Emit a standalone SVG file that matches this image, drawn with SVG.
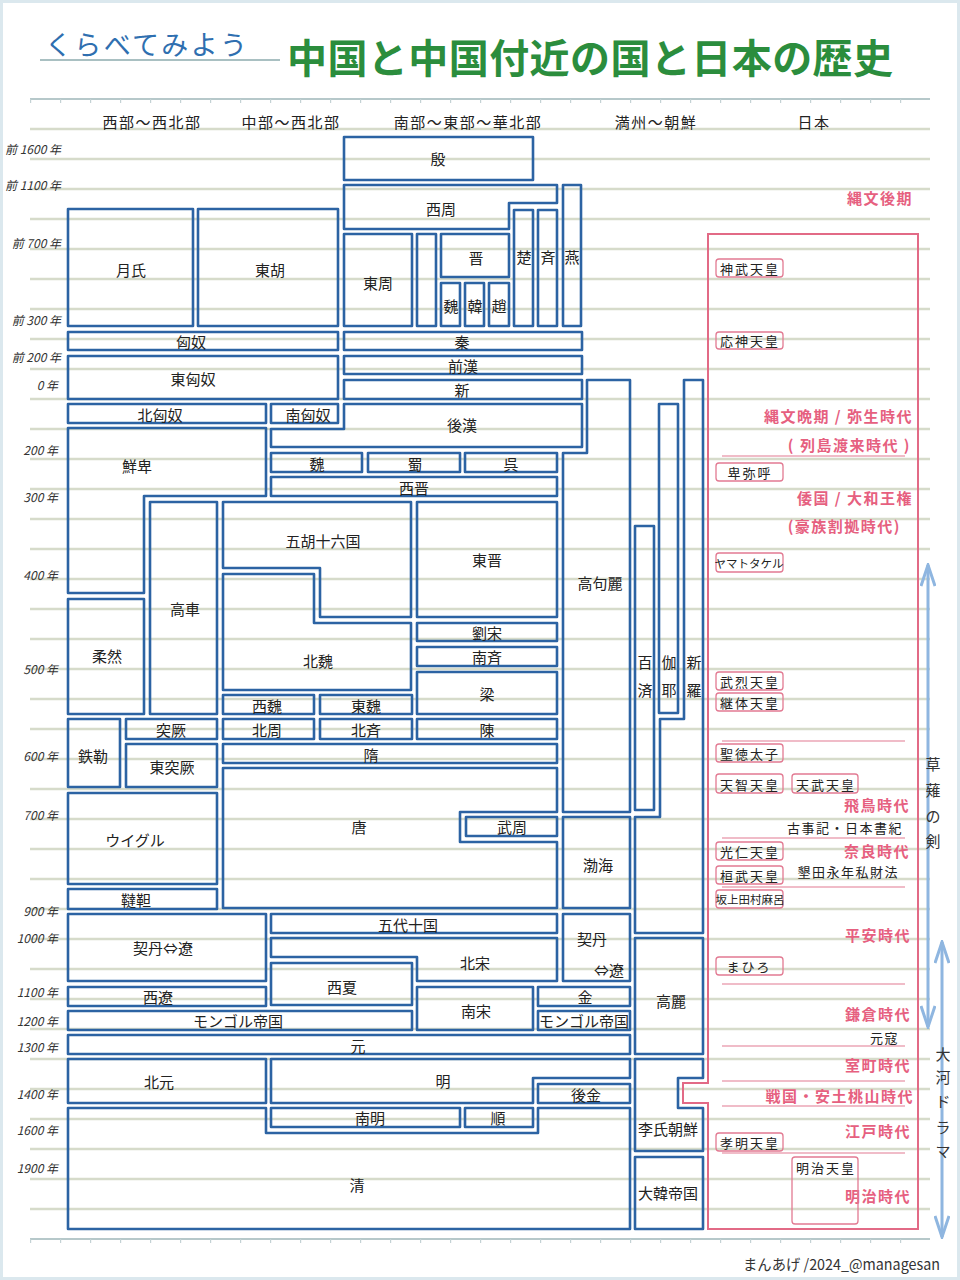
<svg xmlns="http://www.w3.org/2000/svg" width="960" height="1280" viewBox="0 0 960 1280">
<defs>
<style>
text{font-family:"Noto Sans CJK JP","Noto Sans",sans-serif}
.rule{stroke:#d6dbca;stroke-width:2.3;fill:none}
.edge{stroke:#b6c8ca;stroke-width:2}
.tick{stroke:#c4d2d4;stroke-width:4;stroke-dasharray:1.2 28.8}
.box{fill:none;stroke:#2c63a3;stroke-width:2.6;stroke-linejoin:round}
.l{font-size:15px;fill:#222;text-anchor:middle;dominant-baseline:central}
.h{font-size:15px;fill:#222;text-anchor:middle;dominant-baseline:central;letter-spacing:1.5px}
.y{font-size:12px;fill:#333;text-anchor:end;dominant-baseline:central;font-style:italic}
.jb{fill:none;stroke:#e27a92;stroke-width:1.3}
.jl{font-size:13px;fill:#222;text-anchor:middle;dominant-baseline:central;letter-spacing:2px}
.js{font-size:11.5px;fill:#222;text-anchor:middle;dominant-baseline:central}
.era{font-size:15px;font-weight:700;fill:#e6607f;text-anchor:end;dominant-baseline:central;letter-spacing:1.5px}
.note{font-size:13px;fill:#222;text-anchor:end;dominant-baseline:central;letter-spacing:1.5px}
.sep{stroke:#e27a92;stroke-width:1.2}
.arr{stroke:#8fb6e0;stroke-width:3;fill:none}
.vt{font-size:15px;fill:#333;text-anchor:middle;dominant-baseline:central}
</style>
<marker id="ah" viewBox="0 0 24 16" refX="22" refY="8" markerWidth="24" markerHeight="16" markerUnits="userSpaceOnUse" orient="auto-start-reverse"><path d="M1,1 L22,8 L1,15" fill="none" stroke="#8fb6e0" stroke-width="3"/></marker>
</defs>

<rect x="1.5" y="1.5" width="957" height="1277" fill="#fff" stroke="#dbe8ee" stroke-width="3"/>

<g id="paper">
<path class="rule" d="M30,129H930M30,159H930M30,189H930M30,219H930M30,249H930M30,279H930M30,309H930M30,339H930M30,369H930M30,399H930M30,429H930M30,459H930M30,489H930M30,519H930M30,549H930M30,579H930M30,609H930M30,639H930M30,669H930M30,699H930M30,729H930M30,759H930M30,789H930M30,819H930M30,849H930M30,879H930M30,909H930M30,939H930M30,969H930M30,999H930M30,1029H930M30,1059H930M30,1089H930M30,1119H930M30,1149H930M30,1179H930M30,1209H930"/>
<line class="edge" x1="30" y1="99" x2="930" y2="99"/>
<line class="tick" x1="30" y1="101" x2="930" y2="101"/>
<line class="edge" x1="30" y1="1239" x2="930" y2="1239"/>
<line class="tick" x1="30" y1="1241" x2="930" y2="1241"/>
</g>

<g id="title">
<text x="45" y="55" font-size="27" fill="#2f6fb0" textLength="202" lengthAdjust="spacing">くらべてみよう</text>
<line x1="40" y1="60" x2="280" y2="60" stroke="#a9c0c2" stroke-width="2"/>
<text x="287" y="73" font-size="40" font-weight="700" fill="#2b8d3d" textLength="606" lengthAdjust="spacing">中国と中国付近の国と日本の歴史</text>
</g>

<g id="headers">
<text class="h" x="152" y="121">西部～西北部</text>
<text class="h" x="291" y="121">中部～西北部</text>
<text class="h" x="468" y="121">南部～東部～華北部</text>
<text class="h" x="656" y="121">満州～朝鮮</text>
<text class="h" x="814" y="121">日本</text>
</g>

<g id="years">
<text class="y" x="61" y="148">前 1600 年</text>
<text class="y" x="61" y="184">前 1100 年</text>
<text class="y" x="61" y="242">前 700 年</text>
<text class="y" x="61" y="319">前 300 年</text>
<text class="y" x="61" y="356">前 200 年</text>
<text class="y" x="58" y="384">0 年</text>
<text class="y" x="58" y="449">200 年</text>
<text class="y" x="58" y="496">300 年</text>
<text class="y" x="58" y="574">400 年</text>
<text class="y" x="58" y="668">500 年</text>
<text class="y" x="58" y="755">600 年</text>
<text class="y" x="58" y="814">700 年</text>
<text class="y" x="58" y="910">900 年</text>
<text class="y" x="58" y="937">1000 年</text>
<text class="y" x="58" y="991">1100 年</text>
<text class="y" x="58" y="1020">1200 年</text>
<text class="y" x="58" y="1046">1300 年</text>
<text class="y" x="58" y="1093">1400 年</text>
<text class="y" x="58" y="1129">1600 年</text>
<text class="y" x="58" y="1167">1900 年</text>
</g>

<g id="n-yin"><rect class="box" x="344" y="137" width="189" height="43"/><text class="l" x="438" y="158">殷</text></g>
<g id="n-xizhou"><path class="box" d="M344,185H557V203H509V229H344Z"/><text class="l" x="441" y="208">西周</text></g>
<g id="n-yan"><rect class="box" x="563" y="185" width="18" height="141"/><text class="l" x="572" y="256">燕</text></g>
<g id="n-chu"><rect class="box" x="514" y="210" width="19" height="116"/><text class="l" x="524" y="256">楚</text></g>
<g id="n-qi"><rect class="box" x="538" y="210" width="19" height="116"/><text class="l" x="548" y="256">斉</text></g>
<g id="n-dongzhou"><rect class="box" x="344" y="234" width="68" height="92"/><text class="l" x="378" y="282">東周</text></g>
<g id="n-narrow"><rect class="box" x="417" y="234" width="19" height="92"/></g>
<g id="n-jin"><rect class="box" x="441" y="234" width="68" height="43"/><text class="l" x="476" y="257">晋</text></g>
<g id="n-wei1"><rect class="box" x="441" y="283" width="19" height="43"/><text class="l" x="451" y="305">魏</text></g>
<g id="n-han"><rect class="box" x="465" y="283" width="19" height="43"/><text class="l" x="475" y="305">韓</text></g>
<g id="n-zhao"><rect class="box" x="489" y="283" width="20" height="43"/><text class="l" x="499" y="305">趙</text></g>
<g id="n-yuezhi"><rect class="box" x="68" y="209" width="125" height="117"/><text class="l" x="131" y="269">月氏</text></g>
<g id="n-donghu"><rect class="box" x="198" y="209" width="140" height="117"/><text class="l" x="270" y="269">東胡</text></g>
<g id="n-xiongnu"><rect class="box" x="68" y="332" width="270" height="18"/><text class="l" x="191" y="341">匈奴</text></g>
<g id="n-dongxiongnu"><rect class="box" x="68" y="356" width="270" height="43"/><text class="l" x="193" y="378">東匈奴</text></g>
<g id="n-qin"><rect class="box" x="344" y="332" width="238" height="18"/><text class="l" x="462" y="341">秦</text></g>
<g id="n-qianhan"><rect class="box" x="344" y="356" width="238" height="18"/><text class="l" x="463" y="365">前漢</text></g>
<g id="n-xin"><rect class="box" x="344" y="380" width="238" height="19"/><text class="l" x="462" y="389">新</text></g>
<g id="n-houhan"><path class="box" d="M344,404H582V447H271V429H344Z"/><text class="l" x="462" y="424">後漢</text></g>
<g id="n-beixiongnu"><rect class="box" x="68" y="404" width="198" height="19"/><text class="l" x="160" y="414">北匈奴</text></g>
<g id="n-nanxiongnu"><rect class="box" x="271" y="404" width="67" height="19"/><text class="l" x="308" y="414">南匈奴</text></g>
<g id="n-xianbei"><path class="box" d="M68,428H266V496H144V593H68Z"/><text class="l" x="137" y="465">鮮卑</text></g>
<g id="n-wei2"><rect class="box" x="271" y="453" width="91" height="19"/><text class="l" x="317" y="463">魏</text></g>
<g id="n-shu"><rect class="box" x="368" y="453" width="92" height="19"/><text class="l" x="415" y="463">蜀</text></g>
<g id="n-wu"><rect class="box" x="465" y="453" width="92" height="19"/><text class="l" x="511" y="463">呉</text></g>
<g id="n-xijin"><rect class="box" x="271" y="477" width="286" height="19"/><text class="l" x="414" y="487">西晋</text></g>
<g id="n-goguryeo"><path class="box" d="M587,380H630V812H563V453H587Z"/><text class="l" x="600" y="582">高句麗</text></g>
<g id="n-wuhu"><path class="box" d="M223,502H411V617H320V568H223Z"/><text class="l" x="323" y="540">五胡十六国</text></g>
<g id="n-beiwei"><path class="box" d="M223,574H314V623H411V690H223Z"/><text class="l" x="318" y="660">北魏</text></g>
<g id="n-dongjin"><rect class="box" x="417" y="502" width="140" height="115"/><text class="l" x="487" y="559">東晋</text></g>
<g id="n-liusong"><rect class="box" x="417" y="623" width="140" height="18"/><text class="l" x="487" y="632">劉宋</text></g>
<g id="n-nanqi"><rect class="box" x="417" y="647" width="140" height="19"/><text class="l" x="487" y="656">南斉</text></g>
<g id="n-liang"><rect class="box" x="417" y="672" width="140" height="42"/><text class="l" x="487" y="693">梁</text></g>
<g id="n-chen"><rect class="box" x="417" y="719" width="140" height="20"/><text class="l" x="487" y="729">陳</text></g>
<g id="n-xiwei"><rect class="box" x="223" y="695" width="91" height="19"/><text class="l" x="267" y="705">西魏</text></g>
<g id="n-dongwei"><rect class="box" x="320" y="695" width="92" height="19"/><text class="l" x="366" y="705">東魏</text></g>
<g id="n-beizhou"><rect class="box" x="223" y="719" width="91" height="20"/><text class="l" x="267" y="729">北周</text></g>
<g id="n-beiqi"><rect class="box" x="320" y="719" width="92" height="20"/><text class="l" x="366" y="729">北斉</text></g>
<g id="n-sui"><rect class="box" x="223" y="744" width="334" height="19"/><text class="l" x="371" y="754">隋</text></g>
<g id="n-tang"><path class="box" d="M223,768H557V812H460V842H557V908H223Z"/><text class="l" x="359" y="826">唐</text></g>
<g id="n-wuzhou"><rect class="box" x="466" y="817" width="91" height="19"/><text class="l" x="512" y="826">武周</text></g>
<g id="n-rouran"><rect class="box" x="68" y="599" width="76" height="115"/><text class="l" x="107" y="655">柔然</text></g>
<g id="n-gaoche"><rect class="box" x="150" y="502" width="67" height="212"/><text class="l" x="185" y="608">高車</text></g>
<g id="n-tiele"><rect class="box" x="68" y="719" width="52" height="68"/><text class="l" x="93" y="755">鉄勒</text></g>
<g id="n-tujue"><rect class="box" x="126" y="719" width="91" height="20"/><text class="l" x="171" y="729">突厥</text></g>
<g id="n-dongtujue"><rect class="box" x="126" y="744" width="91" height="43"/><text class="l" x="172" y="766">東突厥</text></g>
<g id="n-uyghur"><rect class="box" x="68" y="793" width="149" height="91"/><text class="l" x="135" y="839">ウイグル</text></g>
<g id="n-dada"><rect class="box" x="68" y="889" width="149" height="20"/><text class="l" x="136" y="899">韃靼</text></g>
<g id="n-baekje"><rect class="box" x="635" y="526" width="19" height="284"/><text class="l" x="645" y="661">百</text><text class="l" x="645" y="689">済</text></g>
<g id="n-gaya"><rect class="box" x="659" y="404" width="19" height="309"/><text class="l" x="669" y="661">伽</text><text class="l" x="669" y="689">耶</text></g>
<g id="n-silla"><path class="box" d="M684,380H703V933H635V817H660V719H684Z"/><text class="l" x="694" y="661">新</text><text class="l" x="694" y="689">羅</text></g>
<g id="n-bohai"><rect class="box" x="563" y="817" width="67" height="91"/><text class="l" x="598" y="864">渤海</text></g>
<g id="n-khitan-r"><rect class="box" x="563" y="914" width="67" height="67"/><text class="l" x="592" y="938">契丹</text><text class="l" x="609" y="969">⇔遼</text></g>
<g id="n-khitan-l"><rect class="box" x="68" y="914" width="198" height="67"/><text class="l" x="163" y="947">契丹⇔遼</text></g>
<g id="n-wudai"><rect class="box" x="271" y="914" width="286" height="19"/><text class="l" x="408" y="924">五代十国</text></g>
<g id="n-beisong"><path class="box" d="M271,938H557V981H417V957H271Z"/><text class="l" x="475" y="962">北宋</text></g>
<g id="n-xixia"><rect class="box" x="271" y="963" width="141" height="42"/><text class="l" x="342" y="986">西夏</text></g>
<g id="n-nansong"><rect class="box" x="417" y="987" width="116" height="43"/><text class="l" x="476" y="1010">南宋</text></g>
<g id="n-xiliao"><rect class="box" x="68" y="987" width="198" height="19"/><text class="l" x="158" y="996">西遼</text></g>
<g id="n-jin2"><rect class="box" x="538" y="987" width="92" height="19"/><text class="l" x="585" y="996">金</text></g>
<g id="n-mongol-l"><rect class="box" x="68" y="1011" width="344" height="19"/><text class="l" x="238" y="1020">モンゴル帝国</text></g>
<g id="n-mongol-r"><rect class="box" x="538" y="1011" width="92" height="19"/><text class="l" x="584" y="1020" font-size="14">モンゴル帝国</text></g>
<g id="n-goryeo"><rect class="box" x="635" y="938" width="68" height="116"/><text class="l" x="671" y="1000">高麗</text></g>
<g id="n-yuan"><rect class="box" x="68" y="1035" width="562" height="19"/><text class="l" x="358" y="1045">元</text></g>
<g id="n-beiyuan"><rect class="box" x="68" y="1059" width="198" height="44"/><text class="l" x="159" y="1081">北元</text></g>
<g id="n-ming"><path class="box" d="M271,1059H630V1078H533V1103H271Z"/><text class="l" x="443" y="1080">明</text></g>
<g id="n-houjin"><rect class="box" x="538" y="1084" width="92" height="19"/><text class="l" x="586" y="1094">後金</text></g>
<g id="n-nanming"><rect class="box" x="271" y="1108" width="189" height="19"/><text class="l" x="370" y="1117">南明</text></g>
<g id="n-shun"><rect class="box" x="465" y="1108" width="68" height="19"/><text class="l" x="498" y="1117">順</text></g>
<g id="n-qing"><path class="box" d="M68,1108H266V1133H538V1108H630V1229H68Z"/><text class="l" x="357" y="1184">清</text></g>
<g id="n-joseon"><path class="box" d="M635,1059H703V1078H678V1108H703V1151H635Z"/><text class="l" x="668" y="1128">李氏朝鮮</text></g>
<g id="n-korea-empire"><rect class="box" x="635" y="1157" width="68" height="72"/><text class="l" x="668" y="1192">大韓帝国</text></g>

<g id="japan">
<path d="M708,234H918V1229H708V1103H683V1083H708Z" fill="none" stroke="#e26a86" stroke-width="2"/>
<path class="sep" d="M722,456H905M722,741H905M722,838H905M722,887H905M722,984H905M722,1046H905M722,1081H905M722,1106H905M722,1153H905"/>
<text class="era" x="913" y="197">縄文後期</text>
<text class="era" x="913" y="415">縄文晩期 / 弥生時代</text>
<text class="era" x="911" y="444">( 列島渡来時代 )</text>
<text class="era" x="913" y="497">倭国 / 大和王権</text>
<text class="era" x="901" y="525">(豪族割拠時代)</text>
<text class="era" x="910" y="804">飛鳥時代</text>
<text class="note" x="903" y="827">古事記・日本書紀</text>
<text class="era" x="910" y="850">奈良時代</text>
<text class="note" x="899" y="871">墾田永年私財法</text>
<text class="era" x="911" y="934">平安時代</text>
<text class="era" x="911" y="1013">鎌倉時代</text>
<text class="note" x="899" y="1037">元寇</text>
<text class="era" x="911" y="1064">室町時代</text>
<text class="era" x="914" y="1095">戦国・安土桃山時代</text>
<text class="era" x="911" y="1130">江戸時代</text>
<text class="era" x="911" y="1195">明治時代</text>
</g>

<g id="j-jimmu"><rect class="jb" x="716" y="259" width="67" height="18" rx="3"/><text class="jl" x="750" y="268">神武天皇</text></g>
<g id="j-ojin"><rect class="jb" x="716" y="332" width="67" height="17" rx="3"/><text class="jl" x="750" y="340">応神天皇</text></g>
<g id="j-himiko"><rect class="jb" x="716" y="463" width="67" height="18" rx="3"/><text class="jl" x="750" y="472">卑弥呼</text></g>
<g id="j-yamato"><rect class="jb" x="716" y="553" width="67" height="19" rx="3"/><text class="js" x="749" y="563">ヤマトタケル</text></g>
<g id="j-buretsu"><rect class="jb" x="716" y="672" width="67" height="18" rx="3"/><text class="jl" x="750" y="681">武烈天皇</text></g>
<g id="j-keitai"><rect class="jb" x="716" y="693" width="67" height="18" rx="3"/><text class="jl" x="750" y="702">継体天皇</text></g>
<g id="j-shotoku"><rect class="jb" x="716" y="744" width="67" height="18" rx="3"/><text class="jl" x="750" y="753">聖徳太子</text></g>
<g id="j-tenji"><rect class="jb" x="716" y="774" width="67" height="19" rx="3"/><text class="jl" x="750" y="784">天智天皇</text></g>
<g id="j-tenmu"><rect class="jb" x="792" y="774" width="66" height="19" rx="3"/><text class="jl" x="826" y="784">天武天皇</text></g>
<g id="j-konin"><rect class="jb" x="716" y="842" width="67" height="18" rx="3"/><text class="jl" x="750" y="851">光仁天皇</text></g>
<g id="j-kanmu"><rect class="jb" x="716" y="866" width="67" height="18" rx="3"/><text class="jl" x="750" y="875">桓武天皇</text></g>
<g id="j-tamuramaro"><rect class="jb" x="716" y="890" width="67" height="18" rx="3"/><text class="js" x="750" y="899">坂上田村麻呂</text></g>
<g id="j-mahiro"><rect class="jb" x="716" y="957" width="67" height="18" rx="3"/><text class="jl" x="749" y="966">まひろ</text></g>
<g id="j-komei"><rect class="jb" x="716" y="1133" width="67" height="18" rx="3"/><text class="jl" x="750" y="1142">孝明天皇</text></g>
<g id="j-meiji"><rect class="jb" x="792" y="1157" width="66" height="67" rx="3"/><text class="jl" x="826" y="1167">明治天皇</text></g>

<g id="connectors">
<line class="arr" x1="928" y1="565" x2="928" y2="1027" marker-start="url(#ah)" marker-end="url(#ah)"/>
<line class="arr" x1="942" y1="942" x2="942" y2="1237" marker-start="url(#ah)" marker-end="url(#ah)"/>
</g>

<g id="arrow-labels">
<text class="vt" x="933" y="763">草</text>
<text class="vt" x="933" y="789">薙</text>
<text class="vt" x="933" y="815">の</text>
<text class="vt" x="933" y="840">剣</text>
<text class="vt" x="943" y="1053">大</text>
<text class="vt" x="943" y="1076">河</text>
<text class="vt" x="943" y="1100">ド</text>
<text class="vt" x="943" y="1126">ラ</text>
<text class="vt" x="943" y="1150">マ</text>
</g>

<g id="footer">
<text x="743" y="1263" font-size="15" fill="#333" dominant-baseline="central" textLength="197" lengthAdjust="spacingAndGlyphs">まんあげ /2024_@managesan</text>
</g>
</svg>
